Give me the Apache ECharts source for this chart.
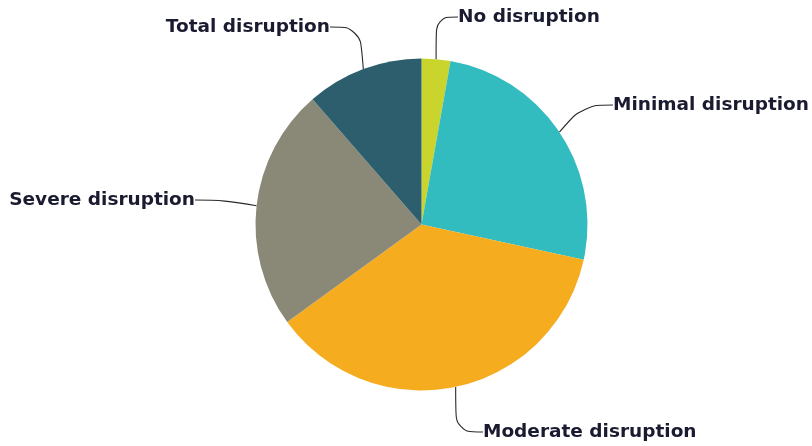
<!DOCTYPE html>
<html>
<head>
<meta charset="utf-8">
<script src="https://cdn.jsdelivr.net/npm/echarts@6/dist/echarts.min.js"></script>
<style>
  html, body { margin: 0; padding: 0; background: #ffffff; }
  #chart { width: 812px; height: 446px; }
</style>
</head>
<body>
<div id="chart"></div>
<script>
// Disruption levels and their shares (%)
const categories = ['No disruption', 'Minimal disruption', 'Moderate disruption', 'Severe disruption', 'Total disruption'];
const shares = [2.8, 25.6, 36.6, 23.6, 11.4];
const colors = ['#c9d52c', '#33bcbf', '#f5ac1f', '#8a8978', '#2d5e6d'];

// Label anchor points (pixels, outer edge of the padded label box) and alignment
const labelSpots = [
  { x: 450, y: 17, align: 'left' },
  { x: 605, y: 105, align: 'left' },
  { x: 475, y: 432, align: 'left' },
  { x: 203, y: 200, align: 'right' },
  { x: 338, y: 27, align: 'right' }
];

const chart = echarts.init(document.getElementById('chart'));
chart.setOption({
  animation: false,
  series: [{
    type: 'pie',
    center: [421.5, 224.5],
    radius: 166,
    startAngle: 90,
    clockwise: true,
    data: categories.map((name, i) => ({
      name: name,
      value: shares[i],
      itemStyle: { color: colors[i] }
    })),
    label: {
      show: true,
      formatter: '{b}',
      fontFamily: 'DejaVu Sans',
      fontWeight: 'bold',
      fontSize: 18.5,
      color: '#1a1a30',
      padding: [0, 8],
      overflow: 'none',
      width: 260
    },
    labelLine: {
      show: true,
      smooth: 0.4,
      lineStyle: { color: '#2a2a2a', width: 1.1 }
    },
    labelLayout: function (params) {
      const s = labelSpots[params.dataIndex];
      return {
        x: s.x,
        y: s.y,
        align: s.align,
        verticalAlign: 'middle'
      };
    },
    emphasis: { disabled: true }
  }]
});
</script>
</body>
</html>
